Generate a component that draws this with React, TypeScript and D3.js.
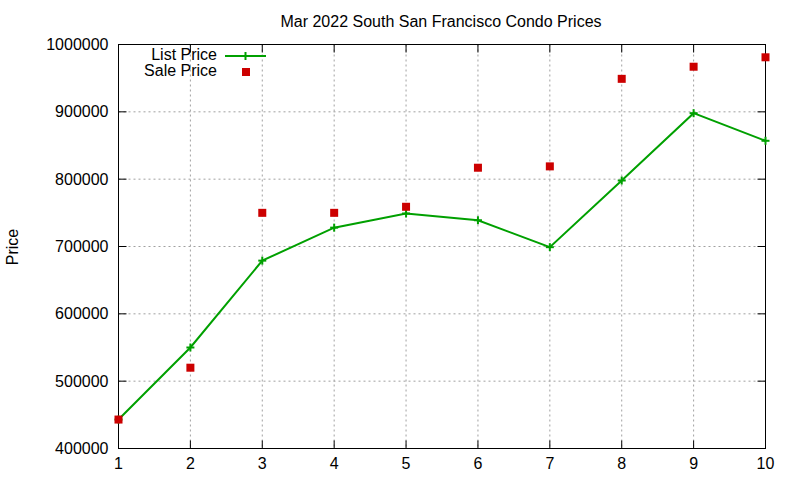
import * as d3 from "d3";
import { useEffect, useRef } from "react";

const X_VALUES = [1, 2, 3, 4, 5, 6, 7, 8, 9, 10];
const LIST_PRICE = [443000, 550000, 679000, 728000, 749000, 739000, 699000, 798000, 898000, 857000];
const SALE_PRICE = [443000, 520000, 750000, 750000, 759000, 817000, 819000, 949000, 967000, 981000];
const Y_TICKS = [400000, 500000, 600000, 700000, 800000, 900000, 1000000];

const WIDTH = 800;
const HEIGHT = 480;
const FONT = "'Liberation Sans', Arial, sans-serif";
const FS = 16;

export default function App() {
	const svgRef = useRef<SVGSVGElement>(null);

	useEffect(() => {
		if (!svgRef.current) return;
		const svg = d3.select(svgRef.current);
		svg.selectAll("*").remove();

		const left = 118.5;
		const right = 765.5;
		const top = 44.5;
		const bottom = 448.5;

		const x = d3.scaleLinear().domain([1, 10]).range([left, right]);
		const y = d3.scaleLinear().domain([400000, 1000000]).range([bottom, top]);

		svg.append("rect").attr("width", WIDTH).attr("height", HEIGHT).attr("fill", "#fff");

		// grid
		const grid = svg.append("g").attr("stroke", "#a0a0a0").attr("stroke-width", 1).attr("stroke-dasharray", "2,3");
		X_VALUES.slice(1, -1).forEach((v) => {
			grid.append("line").attr("x1", x(v)).attr("x2", x(v)).attr("y1", top).attr("y2", bottom);
		});
		Y_TICKS.slice(1, -1).forEach((v) => {
			grid.append("line").attr("x1", left).attr("x2", right).attr("y1", y(v)).attr("y2", y(v));
		});

		// ticks (inside, mirrored)
		const ticks = svg.append("g").attr("stroke", "#000").attr("stroke-width", 1);
		X_VALUES.forEach((v) => {
			ticks.append("line").attr("x1", x(v)).attr("x2", x(v)).attr("y1", bottom).attr("y2", bottom - 8);
			ticks.append("line").attr("x1", x(v)).attr("x2", x(v)).attr("y1", top).attr("y2", top + 8);
		});
		Y_TICKS.forEach((v) => {
			ticks.append("line").attr("x1", left).attr("x2", left + 8).attr("y1", y(v)).attr("y2", y(v));
			ticks.append("line").attr("x1", right).attr("x2", right - 8).attr("y1", y(v)).attr("y2", y(v));
		});

		// border
		svg
			.append("rect")
			.attr("x", left)
			.attr("y", top)
			.attr("width", right - left)
			.attr("height", bottom - top)
			.attr("fill", "none")
			.attr("stroke", "#000")
			.attr("stroke-width", 1);

		// tick labels
		svg
			.append("g")
			.attr("font-family", FONT)
			.attr("font-size", FS)
			.attr("fill", "#000")
			.selectAll("text")
			.data(Y_TICKS)
			.enter()
			.append("text")
			.attr("x", left - 10)
			.attr("y", (d) => y(d))
			.attr("dy", "0.35em")
			.attr("text-anchor", "end")
			.text((d) => String(d));

		svg
			.append("g")
			.attr("font-family", FONT)
			.attr("font-size", FS)
			.attr("fill", "#000")
			.selectAll("text")
			.data(X_VALUES)
			.enter()
			.append("text")
			.attr("x", (d) => x(d))
			.attr("y", bottom + 20)
			.attr("text-anchor", "middle")
			.text((d) => String(d));

		// title & axis label
		svg
			.append("text")
			.attr("x", 441)
			.attr("y", 27)
			.attr("text-anchor", "middle")
			.attr("font-family", FONT)
			.attr("font-size", FS)
			.text("Mar 2022 South San Francisco Condo Prices");

		svg
			.append("text")
			.attr("transform", `translate(18,247) rotate(-90)`)
			.attr("text-anchor", "middle")
			.attr("font-family", FONT)
			.attr("font-size", FS)
			.text("Price");

		// list price line
		const line = d3
			.line<number>()
			.x((_, i) => x(X_VALUES[i]))
			.y((d) => y(d));
		svg
			.append("path")
			.datum(LIST_PRICE)
			.attr("d", line)
			.attr("fill", "none")
			.attr("stroke", "#00a000")
			.attr("stroke-width", 2);

		const plus = (g: d3.Selection<SVGGElement, unknown, null, undefined>, cx: number, cy: number) => {
			g.append("line").attr("x1", cx - 4).attr("x2", cx + 4).attr("y1", cy).attr("y2", cy);
			g.append("line").attr("x1", cx).attr("x2", cx).attr("y1", cy - 4).attr("y2", cy + 4);
		};
		const plusG = svg.append("g").attr("stroke", "#00a000").attr("stroke-width", 2);
		LIST_PRICE.forEach((v, i) => plus(plusG, x(X_VALUES[i]), y(v)));

		// sale price squares
		svg
			.append("g")
			.attr("fill", "#cc0000")
			.selectAll("rect")
			.data(SALE_PRICE)
			.enter()
			.append("rect")
			.attr("x", (_, i) => x(X_VALUES[i]) - 4)
			.attr("y", (d) => y(d) - 4)
			.attr("width", 8)
			.attr("height", 8);

		// legend
		const legend = svg.append("g").attr("font-family", FONT).attr("font-size", FS);
		legend.append("text").attr("x", 217).attr("y", 60).attr("text-anchor", "end").text("List Price");
		legend.append("text").attr("x", 217).attr("y", 76).attr("text-anchor", "end").text("Sale Price");
		legend
			.append("line")
			.attr("x1", 225)
			.attr("x2", 266)
			.attr("y1", 56)
			.attr("y2", 56)
			.attr("stroke", "#00a000")
			.attr("stroke-width", 2);
		const legPlus = legend.append("g").attr("stroke", "#00a000").attr("stroke-width", 2);
		plus(legPlus, 245.5, 56);
		legend.append("rect").attr("x", 242).attr("y", 68).attr("width", 8).attr("height", 8).attr("fill", "#cc0000");
	}, []);

	return (
		<div>
			<svg ref={svgRef} width={WIDTH} height={HEIGHT} style={{ display: "block", position: "absolute", left: 0, top: 0 }} />
		</div>
	);
}
